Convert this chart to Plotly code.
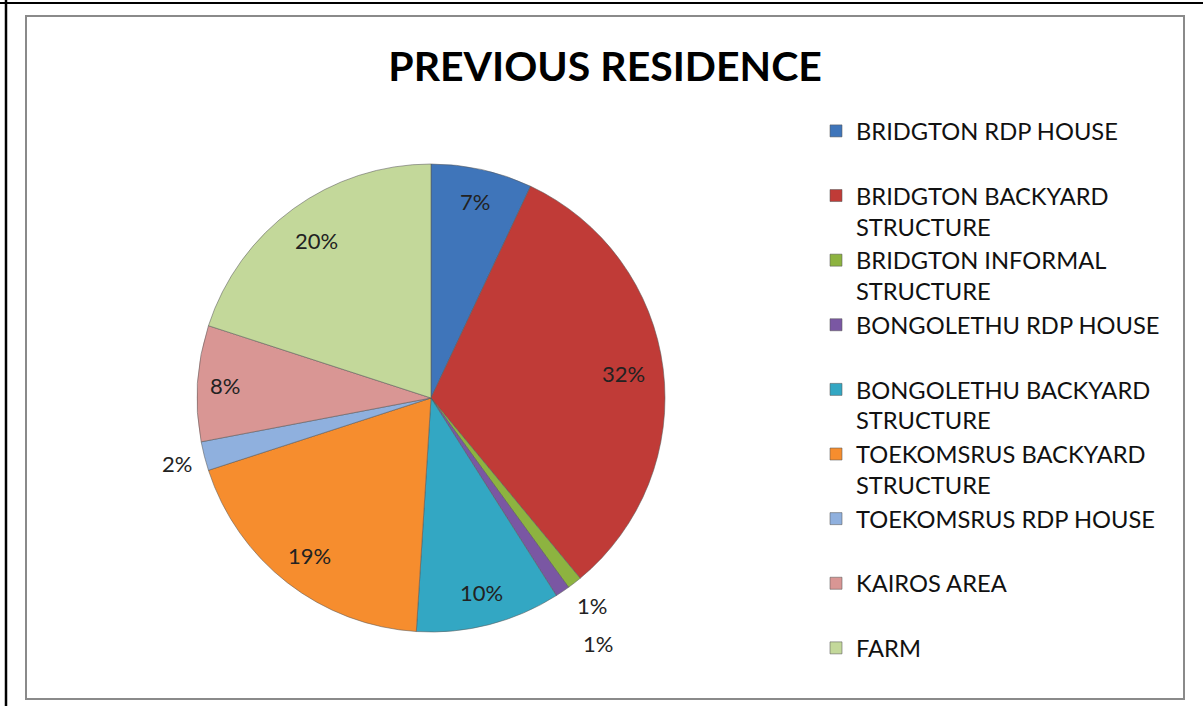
import math
import plotly.graph_objects as go

# categories, as in the legend (two lines per entry)
labels = [
    "BRIDGTON RDP HOUSE<br> ",
    "BRIDGTON BACKYARD<br>STRUCTURE",
    "BRIDGTON INFORMAL<br>STRUCTURE",
    "BONGOLETHU RDP HOUSE<br> ",
    "BONGOLETHU BACKYARD<br>STRUCTURE",
    "TOEKOMSRUS BACKYARD<br>STRUCTURE",
    "TOEKOMSRUS RDP HOUSE<br> ",
    "KAIROS AREA<br> ",
    "FARM",
]
shares = [7, 32, 1, 1, 10, 19, 2, 8, 20]
slice_colors = [
    "#3F75BA", "#C03B37", "#8DB340", "#7A57A3", "#33A7C3",
    "#F68D2E", "#8FB0DE", "#D99694", "#C3D89A",
]
# how far out each percentage label sits, as a fraction of the radius
label_r = [0.86, 0.83, 1.12, 1.27, 0.86, 0.85, 1.12, 0.88, 0.83]

W, H = 1203, 706
cx, cy, r = 431, 398, 234

fig = go.Figure()
fig.add_trace(go.Pie(
    labels=labels,
    values=shares,
    sort=False,
    direction="clockwise",
    rotation=0,
    marker=dict(colors=slice_colors, line=dict(color="rgba(90,90,90,0.55)", width=1)),
    textinfo="none",
    domain=dict(x=[(cx - r) / W, (cx + r) / W], y=[(H - cy - r) / H, (H - cy + r) / H]),
    hoverinfo="label+percent",
))

# percentage labels on the slice mid-angles (clockwise from 12 o'clock)
total = sum(shares)
cum = 0
for v, f in zip(shares, label_r):
    a = 2 * math.pi * (cum + v / 2) / total
    cum += v
    fig.add_annotation(
        x=cx + f * r * math.sin(a), y=cy - f * r * math.cos(a),
        xref="x", yref="y",
        text=f"{round(100 * v / total)}%",
        showarrow=False,
        font=dict(family="Lato", size=22, color="#222222"),
    )

fig.update_layout(
    width=W,
    height=H,
    margin=dict(l=0, r=0, t=0, b=0),
    paper_bgcolor="white",
    plot_bgcolor="rgba(0,0,0,0)",
    font=dict(family="Lato", color="#111111"),
    xaxis=dict(range=[0, W], visible=False, fixedrange=True),
    yaxis=dict(range=[H, 0], visible=False, fixedrange=True),
    title=dict(
        text="<b>PREVIOUS RESIDENCE</b>",
        x=0.503, xanchor="center",
        y=1 - 67 / H, yanchor="middle",
        font=dict(family="Lato", size=41, color="#000000"),
    ),
    legend=dict(
        x=816 / W, xanchor="left",
        y=1 - 109 / H, yanchor="top",
        font=dict(family="Lato", size=23.7, color="#111111"),
        valign="top",
        tracegroupgap=0,
        itemwidth=30,
    ),
    shapes=[
        dict(type="line", xref="paper", yref="paper", x0=0, x1=1,
             y0=1 - 3 / H, y1=1 - 3 / H, line=dict(color="#000000", width=2)),
        dict(type="line", xref="paper", yref="paper", x0=6 / W, x1=6 / W,
             y0=0, y1=1, line=dict(color="#000000", width=2.5)),
        dict(type="rect", xref="paper", yref="paper", x0=26 / W, x1=1184 / W,
             y0=1 - 699 / H, y1=1 - 16 / H, line=dict(color="#8a8a8a", width=2)),
    ],
)

fig.write_html("out.html", config={"displayModeBar": False},
               post_script="document.body.style.margin='0';")
